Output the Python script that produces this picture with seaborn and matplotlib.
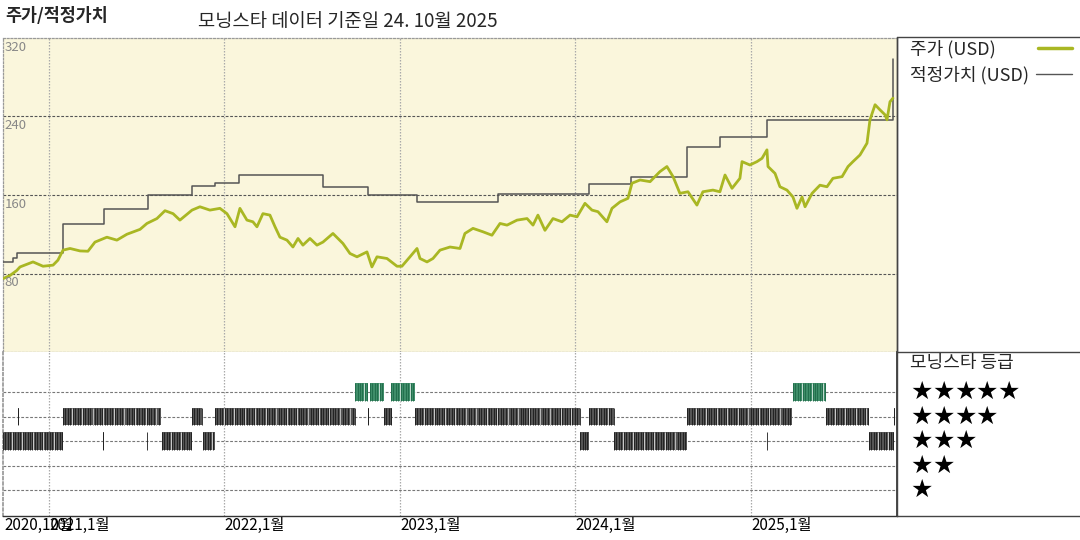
import numpy as np
import pandas as pd
import matplotlib
matplotlib.use("Agg")
import matplotlib.pyplot as plt
from matplotlib.lines import Line2D
import seaborn as sns

sns.set_theme(style="white")
plt.rcParams["font.family"] = ["Noto Sans CJK KR", "DejaVu Sans"]

# ---------------- data (time in decimal years) ----------------
price_t = [2020.740, 2020.778, 2020.816, 2020.835, 2020.909, 2020.966, 2021.023, 2021.051,
           2021.080, 2021.120, 2021.177, 2021.222, 2021.262, 2021.330, 2021.387, 2021.444,
           2021.519, 2021.558, 2021.615, 2021.661, 2021.707, 2021.746, 2021.815, 2021.860,
           2021.917, 2021.974, 2022.014, 2022.060, 2022.088, 2022.128, 2022.162, 2022.185,
           2022.219, 2022.259, 2022.288, 2022.316, 2022.356, 2022.390, 2022.419, 2022.447,
           2022.487, 2022.527, 2022.561, 2022.618, 2022.675, 2022.715, 2022.755, 2022.812,
           2022.840, 2022.869, 2022.926, 2022.983, 2023.011, 2023.057, 2023.097, 2023.114,
           2023.154, 2023.188, 2023.228, 2023.285, 2023.342, 2023.370, 2023.416, 2023.473,
           2023.524, 2023.570, 2023.610, 2023.667, 2023.724, 2023.758, 2023.786, 2023.826,
           2023.872, 2023.923, 2023.969, 2024.009, 2024.054, 2024.094, 2024.128, 2024.179,
           2024.208, 2024.254, 2024.299, 2024.322, 2024.368, 2024.425, 2024.481, 2024.521,
           2024.556, 2024.595, 2024.641, 2024.692, 2024.726, 2024.783, 2024.823, 2024.852,
           2024.892, 2024.937, 2024.949, 2024.994, 2025.034, 2025.063, 2025.091, 2025.097,
           2025.137, 2025.165, 2025.205, 2025.239, 2025.262, 2025.291, 2025.308, 2025.348,
           2025.393, 2025.433, 2025.467, 2025.519, 2025.553, 2025.581, 2025.621, 2025.661,
           2025.678, 2025.707, 2025.735, 2025.764, 2025.775, 2025.792, 2025.809]
price_v = [74.9, 78.0, 83.0, 86.7, 91.8, 87.4, 88.5, 93.6,
           103.8, 105.5, 103.0, 102.7, 112.0, 117.0, 114.0, 120.0,
           125.0, 131.0, 136.0, 144.0, 141.0, 134.4, 144.6, 148.0,
           144.6, 146.4, 141.0, 127.6, 146.4, 134.4, 132.7, 127.6,
           141.0, 139.5, 127.6, 117.0, 114.0, 107.0, 115.7, 108.9,
           115.7, 108.9, 112.0, 120.8, 110.6, 100.4, 97.0, 102.0,
           86.7, 97.0, 95.3, 87.4, 87.4, 97.0, 105.5, 95.3,
           91.8, 95.3, 103.8, 107.0, 105.5, 120.8, 126.0, 122.5,
           119.0, 131.0, 129.3, 134.4, 136.0, 129.3, 139.5, 124.0,
           136.0, 132.7, 139.5, 137.8, 151.5, 144.6, 143.0, 132.7,
           146.4, 153.0, 156.6, 172.0, 175.3, 173.6, 183.8, 189.0,
           178.7, 161.7, 163.3, 149.7, 163.3, 165.0, 163.3, 180.4,
           166.8, 177.0, 194.0, 190.6, 194.0, 197.4, 206.0, 189.0,
           182.0, 168.4, 165.0, 158.0, 146.4, 158.0, 148.0, 161.7,
           170.0, 168.4, 177.0, 178.7, 189.0, 194.0, 200.8, 212.8,
           236.6, 252.0, 246.8, 241.7, 236.6, 255.0, 258.7]

fv_t = [2020.740, 2020.795, 2020.818, 2021.080, 2021.313, 2021.564, 2021.815, 2021.946,
        2022.083, 2022.561, 2022.818, 2023.097, 2023.558, 2024.077, 2024.316, 2024.635,
        2024.823, 2025.091, 2025.809]
fv_v = [92.0, 96.0, 101.0, 130.0, 145.7, 160.0, 169.0, 172.5,
        180.4, 168.4, 160.0, 153.0, 160.6, 170.9, 178.7, 208.7,
        219.5, 236.6, 298.6]

rating_stars = [5, 5, 5, 5,
                4, 4, 4, 4, 4, 4, 4, 4, 4, 4, 4,
                3, 3, 3, 3, 3, 3, 3, 3, 3]
rating_start = [2022.744, 2022.829, 2022.949, 2025.239,
                2020.825, 2021.080, 2021.815, 2021.946, 2022.818, 2022.909, 2023.085,
                2024.077, 2024.635, 2025.427, 2025.813,
                2020.738, 2021.306, 2021.556, 2021.644, 2021.877, 2024.026, 2024.219,
                2025.089, 2025.672]
rating_end = [2022.818, 2022.909, 2023.085, 2025.427,
              2020.830, 2021.638, 2021.872, 2022.744, 2022.823, 2022.954, 2024.026,
              2024.219, 2025.234, 2025.672, 2025.818,
              2021.080, 2021.311, 2021.561, 2021.815, 2021.946, 2024.077, 2024.635,
              2025.094, 2025.815]

x_tick_pos = [2020.749, 2021.0, 2022.0, 2023.0, 2024.0, 2025.0]
x_tick_labels = ["2020,10월", "2021,1월", "2022,1월", "2023,1월", "2024,1월", "2025,1월"]
y_ticks = [0, 80, 160, 240, 320]

title_left = "주가/적정가치"
title_main = "모닝스타 데이터 기준일 24. 10월 2025"
legend_price = "주가 (USD)"
legend_fv = "적정가치 (USD)"
rating_title = "모닝스타 등급"

# ---------------- styles ----------------
W, H = 1080, 540
PRICE_C = "#a9b723"
FV_C = "#555555"
BG_C = "#faf6dc"
GREEN_C = "#3f8d69"
DARK_C = "#555555"
XMIN, XMAX = 2020.738, 2025.832

fig = plt.figure(figsize=(W / 100, H / 100), dpi=100)
fig.patch.set_facecolor("white")


def fx(px):
    return px / W


def fy(py):
    return 1 - py / H


ax = fig.add_axes([fx(3), fy(352), fx(897) - fx(3), fy(38) - fy(352)])
axr = fig.add_axes([fx(3), fy(516), fx(897) - fx(3), fy(352) - fy(516)])

# ---------------- top panel ----------------
ax.set_facecolor(BG_C)
df_p = pd.DataFrame({"t": price_t, "v": price_v})
df_f = pd.DataFrame({"t": fv_t, "v": fv_v})
sns.lineplot(data=df_f, x="t", y="v", ax=ax, color=FV_C, lw=1.1,
             drawstyle="steps-post", estimator=None, sort=False, zorder=3)
sns.lineplot(data=df_p, x="t", y="v", ax=ax, color=PRICE_C, lw=2.0,
             estimator=None, sort=False, zorder=4)
ax.set_xlim(XMIN, XMAX)
ax.set_ylim(0, 320)
ax.set_xticks([])
ax.set_yticks([])
ax.set_xlabel("")
ax.set_ylabel("")
for yv in y_ticks[1:-1]:
    ax.axhline(yv, color="#555555", lw=0.8, ls=(0, (2.5, 1.5)), zorder=1)
for xv in x_tick_pos[1:]:
    ax.axvline(xv, color="#aaaaaa", lw=0.9, ls=(0, (1.2, 1.2)), zorder=1)
for yv in y_ticks:
    ax.text(XMIN + 0.008, yv - 3, str(yv), color="#888888", fontsize=9.5,
            va="top", ha="left", zorder=5, clip_on=False)
for side in ["left", "top", "bottom"]:
    ax.spines[side].set_color("#999999")
    ax.spines[side].set_linestyle((0, (1.5, 1.5)))
    ax.spines[side].set_linewidth(0.9)
ax.spines["right"].set_color("#333333")
ax.spines["right"].set_linewidth(1.0)

# ---------------- rating panel ----------------
axr.set_facecolor("white")
axr.set_xlim(XMIN, XMAX)
axr.set_ylim(-0.061, 6.633)
for r in [1, 2, 3, 4, 5]:
    axr.axhline(r, color="#777777", lw=0.8, ls=(0, (2.5, 1.5)), zorder=1)
for xv in x_tick_pos[1:]:
    axr.axvline(xv, color="#aaaaaa", lw=0.9, ls=(0, (1.2, 1.2)), zorder=1)
bh = 0.7
for s, a, b in zip(rating_stars, rating_start, rating_end):
    fc = GREEN_C if s == 5 else DARK_C
    sc = "#1e6a48" if s == 5 else "#1a1a1a"
    axr.broken_barh([(a, b - a)], (s - bh / 2, bh), facecolors=fc,
                    edgecolor="none", zorder=2)
    stripes = np.arange(a, b, 0.014)
    axr.vlines(stripes, s - bh / 2, s + bh / 2, color=sc, lw=0.6, zorder=3)
    axr.vlines(np.arange(a + 0.05, b - 0.01, 0.06), s - bh / 2, s + bh / 2,
               color="white", lw=0.7, alpha=0.7, zorder=3)
axr.set_xticks([])
axr.set_yticks([])
axr.set_xlabel("")
axr.set_ylabel("")
axr.spines["left"].set_color("#999999")
axr.spines["left"].set_linestyle((0, (1.5, 1.5)))
axr.spines["top"].set_visible(False)
axr.spines["bottom"].set_color("#333333")
axr.spines["bottom"].set_linewidth(1.0)
axr.spines["right"].set_color("#333333")

for xv, lab in zip(x_tick_pos, x_tick_labels):
    axr.text(xv, -0.061 - 1 / 24.5, lab, fontsize=11, color="black",
             ha="left", va="top", clip_on=False)

# ---------------- right-side panel ----------------
for (x0, y0, x1, y1) in [(897, 37, 1080, 37), (897, 352, 1080, 352),
                         (897, 516, 1080, 516), (897, 37, 897, 516)]:
    fig.add_artist(Line2D([fx(x0), fx(x1)], [fy(y0), fy(y1)], color="#444444", lw=1.0))

fig.text(fx(910), fy(49), legend_price, fontsize=13, va="center", ha="left")
fig.add_artist(Line2D([fx(1038), fx(1072)], [fy(48), fy(48)], color=PRICE_C, lw=2.5))
fig.text(fx(910), fy(75), legend_fv, fontsize=13, va="center", ha="left")
fig.add_artist(Line2D([fx(1036), fx(1072)], [fy(74), fy(74)], color=FV_C, lw=1.0))

fig.text(fx(910), fy(354), rating_title, fontsize=13, va="top", ha="left")
for i, s in enumerate([5, 4, 3, 2, 1]):
    yy = 392 + i * 24.5
    for k in range(s):
        fig.text(fx(922 + k * 21.6), fy(yy), "★", fontsize=18, va="center",
                 ha="center", family="DejaVu Sans", color="black")

# ---------------- header ----------------
fig.text(fx(5), fy(16), title_left, fontsize=12.5, fontweight="bold", va="center", ha="left")
fig.text(fx(198), fy(21), title_main, fontsize=13.5, va="center", ha="left")

fig.savefig("out.png", dpi=100, facecolor="white")
